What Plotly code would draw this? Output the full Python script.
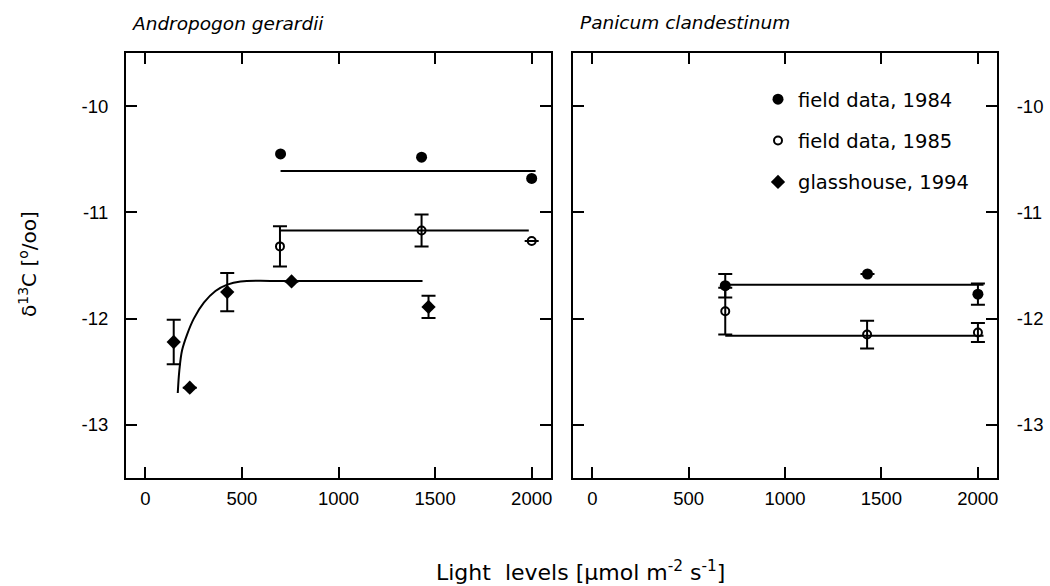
import plotly.graph_objects as go

# ---------------- data ----------------
# Andropogon gerardii (left panel)
ag84_x = [700, 1430, 2000]
ag84_y = [-10.45, -10.48, -10.68]

ag85_x = [697, 1430, 2000]
ag85_y = [-11.32, -11.17, -11.27]
ag85_err = [0.19, 0.15, 0.0]

ag94_x = [147, 230, 424, 757, 1466]
ag94_y = [-12.22, -12.65, -11.75, -11.65, -11.89]
ag94_err = [0.21, 0.0, 0.18, 0.0, 0.105]

ag84_fit_x = [700, 2020]
ag84_fit_y = [-10.61, -10.61]
ag85_fit_x = [697, 1985]
ag85_fit_y = [-11.17, -11.17]
ag94_fit_x = [168, 176, 190, 216, 251, 303, 363, 424, 493, 665, 1435]
ag94_fit_y = [-12.70, -12.49, -12.30, -12.15, -12.00, -11.85, -11.74, -11.68, -11.65, -11.645, -11.645]

# Panicum clandestinum (right panel)
pc84_x = [690, 1428, 2001]
pc84_y = [-11.69, -11.58, -11.77]
pc84_err = [0.11, 0.0, 0.10]

pc85_x = [690, 1426, 2001]
pc85_y = [-11.93, -12.15, -12.13]
pc85_err = [0.22, 0.13, 0.09]

pc84_fit_x = [690, 2030]
pc84_fit_y = [-11.68, -11.68]
pc85_fit_x = [690, 2030]
pc85_fit_y = [-12.16, -12.16]

x_ticks = [0, 500, 1000, 1500, 2000]
y_ticks = [-10, -11, -12, -13]
y_ticktext = ["-10", "-11", "-12", "-13"]

titles = ["Andropogon gerardii", "Panicum clandestinum"]
legend_names = ["field data, 1984", "field data, 1985", "glasshouse, 1994"]

# ---------------- figure ----------------
W, H = 1050, 586
BLACK = "black"
fig = go.Figure()

closed = dict(symbol="circle", size=11, color=BLACK)
opened = dict(symbol="circle-open", size=8, color=BLACK, line=dict(width=2, color=BLACK))
diam = dict(symbol="diamond", size=11, color=BLACK)
eb = lambda arr: dict(type="data", array=arr, visible=True, color=BLACK, thickness=2, width=7)
line_style = dict(color=BLACK, width=2)

# fit lines first (behind markers)
for xs, ys, ax, shape in [
    (ag84_fit_x, ag84_fit_y, "x", "linear"),
    (ag85_fit_x, ag85_fit_y, "x", "linear"),
    (ag94_fit_x, ag94_fit_y, "x", "spline"),
    (pc84_fit_x, pc84_fit_y, "x2", "linear"),
    (pc85_fit_x, pc85_fit_y, "x2", "linear"),
]:
    fig.add_trace(go.Scatter(x=xs, y=ys, mode="lines", line=dict(line_style, shape=shape),
                             xaxis=ax, yaxis="y" if ax == "x" else "y2",
                             showlegend=False, hoverinfo="skip"))

fig.add_trace(go.Scatter(x=ag84_x, y=ag84_y, mode="markers", marker=closed,
                         name=legend_names[0], legendgroup="a", xaxis="x", yaxis="y"))
fig.add_trace(go.Scatter(x=ag85_x, y=ag85_y, mode="markers", marker=opened, error_y=eb(ag85_err),
                         name=legend_names[1], legendgroup="b", xaxis="x", yaxis="y"))
fig.add_trace(go.Scatter(x=ag94_x, y=ag94_y, mode="markers", marker=diam, error_y=eb(ag94_err),
                         name=legend_names[2], legendgroup="c", xaxis="x", yaxis="y"))
fig.add_trace(go.Scatter(x=pc84_x, y=pc84_y, mode="markers", marker=closed, error_y=eb(pc84_err),
                         name=legend_names[0], legendgroup="a", showlegend=False, xaxis="x2", yaxis="y2"))
fig.add_trace(go.Scatter(x=pc85_x, y=pc85_y, mode="markers", marker=opened, error_y=eb(pc85_err),
                         name=legend_names[1], legendgroup="b", showlegend=False, xaxis="x2", yaxis="y2"))

tickfont = dict(family="Liberation Sans, Arial, sans-serif", size=18.5, color=BLACK)
common_ax = dict(showline=True, linecolor=BLACK, linewidth=2, mirror="ticks", ticks="inside",
                 ticklen=11, tickwidth=2, tickcolor=BLACK, showgrid=False, zeroline=False,
                 tickfont=tickfont)

y_top, y_bot = 53, 478
ydom = [1 - y_bot / H, 1 - y_top / H]

fig.update_layout(
    width=W, height=H,
    margin=dict(l=0, r=0, t=0, b=0),
    paper_bgcolor="white", plot_bgcolor="white",
    xaxis=dict(common_ax, domain=[126 / W, 551 / W], range=[-100, 2100],
               tickvals=x_ticks, anchor="y", ticklabelstandoff=3),
    yaxis=dict(common_ax, domain=ydom, range=[-13.5, -9.5], tickvals=y_ticks,
               ticktext=y_ticktext, anchor="x", ticklabelstandoff=12),
    xaxis2=dict(common_ax, domain=[573 / W, 997 / W], range=[-100, 2100],
                tickvals=x_ticks, anchor="y2", ticklabelstandoff=3),
    yaxis2=dict(common_ax, domain=ydom, range=[-13.5, -9.5], tickvals=y_ticks,
                ticktext=y_ticktext, anchor="x2", side="right", ticklabelstandoff=14),
    showlegend=True,
    legend=dict(x=758 / W, y=1 - 80 / H, xanchor="left", yanchor="top",
                bgcolor="rgba(0,0,0,0)", tracegroupgap=13,
                font=dict(family="DejaVu Sans, sans-serif", size=19.5, color=BLACK)),
    font=dict(family="DejaVu Sans, sans-serif", color=BLACK),
)

title_font = dict(family="DejaVu Sans, sans-serif", size=18.5, color=BLACK, style="italic")
fig.add_annotation(text=titles[0], x=130 / W, y=1 - 24 / H, xref="paper", yref="paper",
                   xanchor="left", yanchor="middle", showarrow=False, font=title_font)
fig.add_annotation(text=titles[1], x=578 / W, y=1 - 22 / H, xref="paper", yref="paper",
                   xanchor="left", yanchor="middle", showarrow=False, font=title_font)

fig.add_annotation(text="Light  levels [µmol m<sup>-2</sup> s<sup>-1</sup>]",
                   x=580 / W, y=1 - 571 / H, xref="paper", yref="paper",
                   xanchor="center", yanchor="middle", showarrow=False,
                   font=dict(family="DejaVu Sans, sans-serif", size=22, color=BLACK))
fig.add_annotation(text="δ<sup>13</sup>C [<sup>o</sup>/oo]",
                   x=28 / W, y=1 - 264 / H, xref="paper", yref="paper",
                   xanchor="center", yanchor="middle", textangle=-90, showarrow=False,
                   font=dict(family="DejaVu Sans, sans-serif", size=20, color=BLACK))

fig.write_html("out.html",
               config={"displayModeBar": False},
               post_script="document.body.style.margin='0';document.body.style.overflow='hidden';")
